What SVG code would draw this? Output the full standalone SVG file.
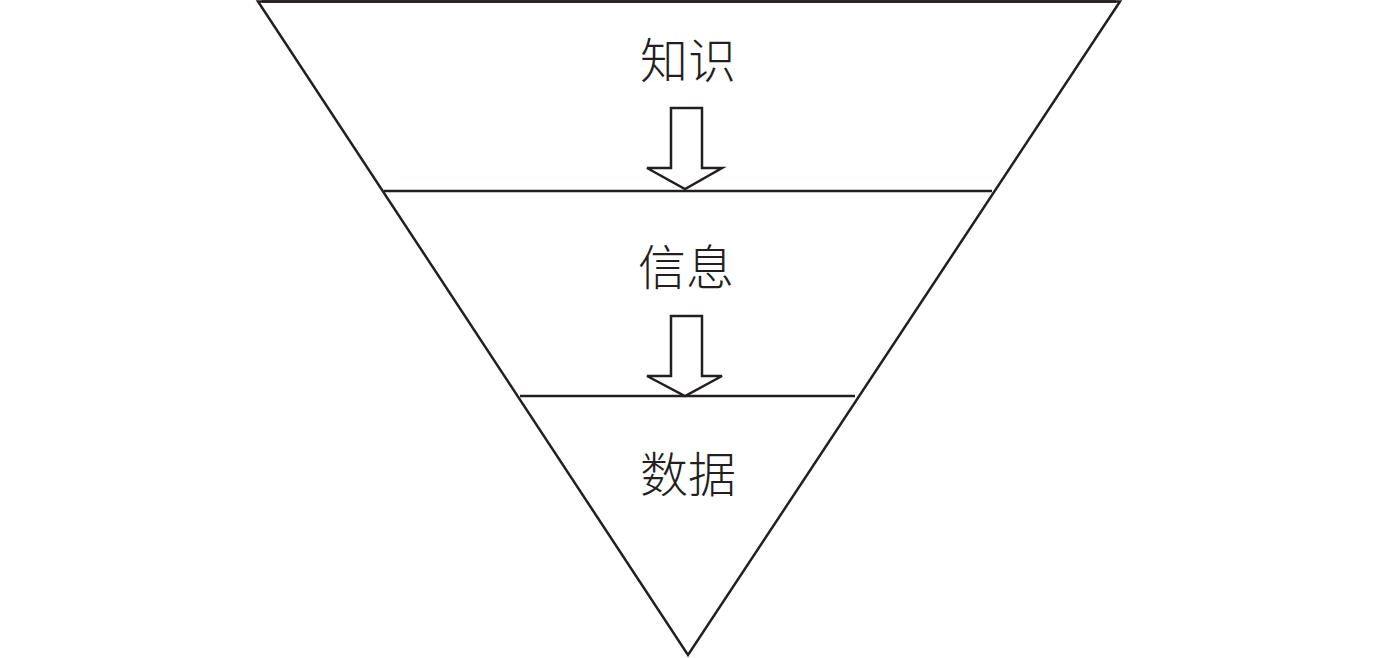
<svg xmlns="http://www.w3.org/2000/svg" width="1378" height="658" viewBox="0 0 1378 658">
<style>
.ln{stroke:#231f20;stroke-width:2.5;fill:none}
.ar{stroke:#231f20;stroke-width:2.5;fill:#fff;stroke-linejoin:miter}
.t{font-family:"Noto Sans CJK SC",sans-serif;font-size:48px;font-weight:300;fill:#231f20;text-anchor:middle}
</style>
<rect width="1378" height="658" fill="#fff"/>
<g id="triangle">
<polygon class="ln" points="258,1.5 1120,1.5 688,655"/>
<line class="ln" x1="262" y1="1.5" x2="1116" y2="1.5" stroke-width="3"/>
</g>
<g id="layer-knowledge">
<text class="t" x="688" y="78">知识</text>
</g>
<g id="layer-information">
<line class="ln" x1="384" y1="191" x2="992" y2="191"/>
<text class="t" x="686" y="285">信息</text>
</g>
<g id="layer-data">
<line class="ln" x1="520" y1="396" x2="855" y2="396"/>
<text class="t" x="688" y="492">数据</text>
</g>
<g id="connectors">
<polygon class="ar" points="671,108 702,108 702,168 722,168 685,189 647,168 671,168"/>
<polygon class="ar" points="671,316 702,316 702,376 722,376 685,396 647,376 671,376"/>
</g>
</svg>
